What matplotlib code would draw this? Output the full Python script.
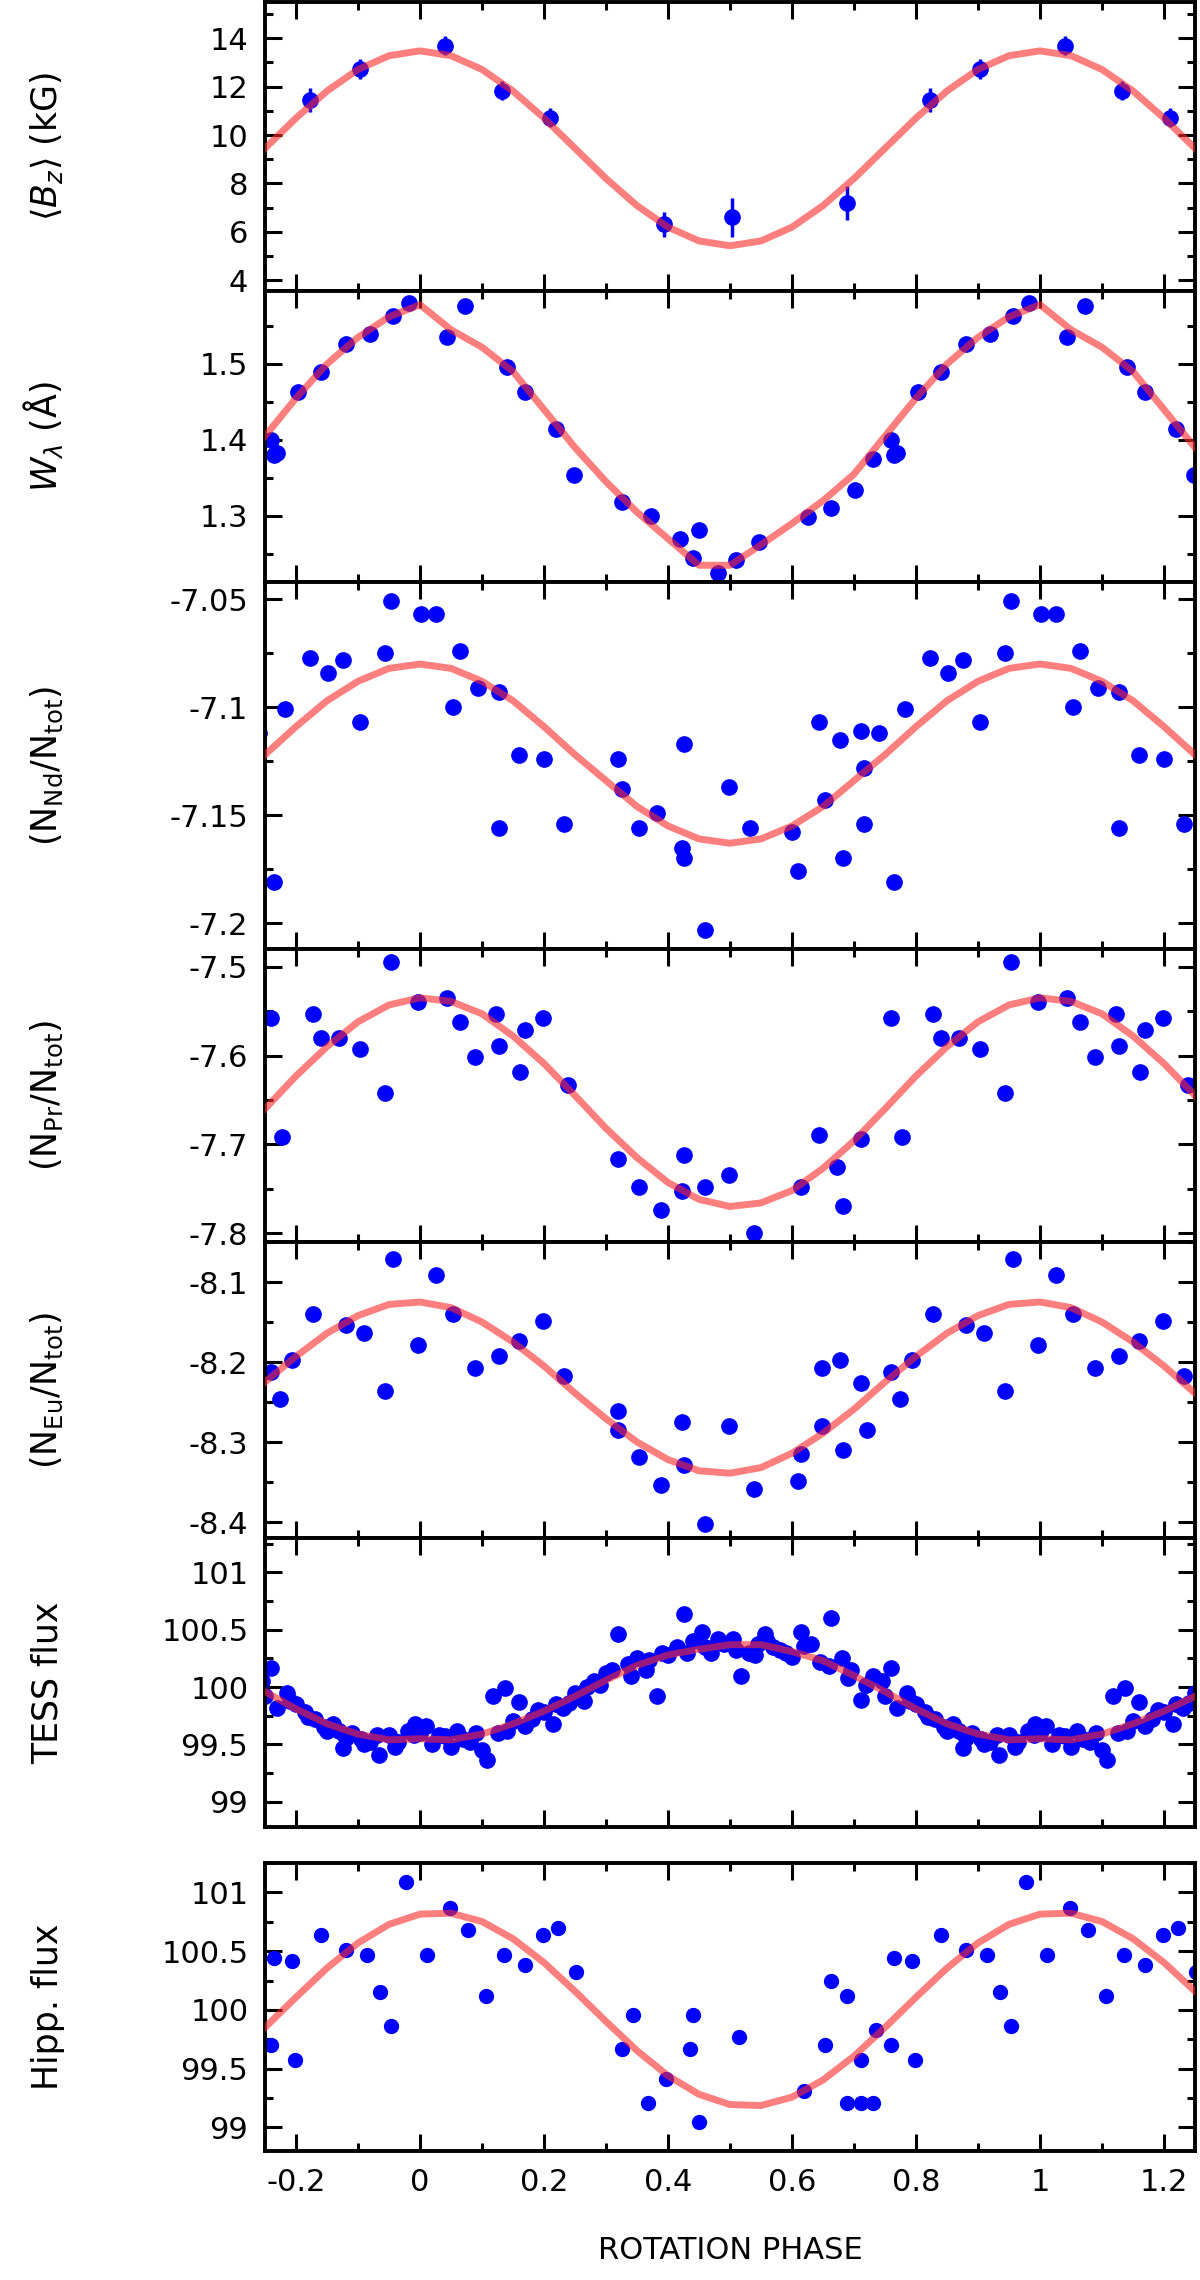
import numpy as np
import matplotlib.pyplot as plt
from matplotlib.ticker import MultipleLocator

# rotation phase of the observations (one cycle, repeated when plotted)
# --- panel 1: mean longitudinal field ---
ph_bz = np.array([0.040, 0.132, 0.209, 0.393, 0.504, 0.688, 0.822, 0.904])
bz = np.array([13.7, 11.83, 10.72, 6.3, 6.6, 7.2, 11.46, 12.73])
bz_err = np.array([0.4, 0.4, 0.4, 0.5, 0.8, 0.7, 0.5, 0.4])

# --- panel 2 ---
ph_w = np.array([0.044, 0.073, 0.141, 0.170, 0.219, 0.248, 0.325, 0.373, 0.420,
                 0.440, 0.450, 0.480, 0.510, 0.547, 0.625, 0.663, 0.702, 0.731,
                 0.760, 0.765, 0.770, 0.803, 0.841, 0.880, 0.919, 0.957, 0.982])
w = np.array([1.536, 1.576, 1.496, 1.463, 1.415, 1.354, 1.318, 1.300, 1.270,
              1.245, 1.281, 1.225, 1.242, 1.266, 1.298, 1.310, 1.334, 1.375,
              1.400, 1.380, 1.383, 1.463, 1.490, 1.526, 1.540, 1.563, 1.580])

# --- panel 3 ---
ph_a1 = np.array([0.001, 0.025, 0.054, 0.064, 0.093, 0.127, 0.127, 0.160, 0.200,
                  0.233, 0.320, 0.325, 0.354, 0.383, 0.422, 0.426, 0.426, 0.460,
                  0.499, 0.533, 0.600, 0.610, 0.644, 0.654, 0.678, 0.683, 0.712,
                  0.716, 0.716, 0.740, 0.764, 0.783, 0.822, 0.851, 0.875, 0.904,
                  0.943, 0.953])
a1 = np.array([-7.057, -7.057, -7.100, -7.074, -7.091, -7.093, -7.156, -7.122, -7.124,
               -7.154, -7.124, -7.138, -7.156, -7.149, -7.165, -7.170, -7.117, -7.203,
               -7.137, -7.156, -7.158, -7.176, -7.107, -7.143, -7.115, -7.170, -7.111,
               -7.154, -7.128, -7.112, -7.181, -7.101, -7.077, -7.084, -7.078, -7.107,
               -7.075, -7.051])

# --- panel 4 ---
ph_a2 = np.array([0.044, 0.064, 0.088, 0.122, 0.127, 0.161, 0.170, 0.199, 0.238,
                  0.320, 0.354, 0.388, 0.422, 0.426, 0.460, 0.499, 0.538, 0.615,
                  0.644, 0.673, 0.683, 0.712, 0.759, 0.778, 0.827, 0.841, 0.870,
                  0.904, 0.943, 0.953, 0.996])
a2 = np.array([-7.535, -7.562, -7.602, -7.553, -7.589, -7.619, -7.571, -7.558, -7.633,
               -7.717, -7.748, -7.774, -7.752, -7.712, -7.748, -7.734, -7.800, -7.748,
               -7.690, -7.726, -7.770, -7.694, -7.558, -7.692, -7.553, -7.580, -7.580,
               -7.593, -7.642, -7.495, -7.540])

# --- panel 5 ---
ph_a3 = np.array([0.025, 0.054, 0.088, 0.127, 0.160, 0.199, 0.233, 0.320, 0.320,
                  0.354, 0.388, 0.422, 0.426, 0.460, 0.499, 0.538, 0.610, 0.615,
                  0.649, 0.649, 0.678, 0.683, 0.712, 0.721, 0.759, 0.774, 0.793,
                  0.827, 0.880, 0.909, 0.943, 0.957, 0.996])
a3 = np.array([-8.091, -8.140, -8.208, -8.193, -8.174, -8.149, -8.218, -8.261, -8.285,
               -8.319, -8.354, -8.275, -8.329, -8.403, -8.280, -8.359, -8.349, -8.315,
               -8.208, -8.280, -8.198, -8.310, -8.226, -8.285, -8.213, -8.246, -8.198,
               -8.140, -8.154, -8.164, -8.236, -8.071, -8.179])

# --- panel 6: TESS photometry ---
ph_tess = np.array([0.000, 0.010, 0.020, 0.030, 0.040, 0.050, 0.060, 0.070, 0.080,
                    0.090, 0.100, 0.108, 0.117, 0.125, 0.137, 0.140, 0.150, 0.160,
                    0.170, 0.180, 0.190, 0.200, 0.215, 0.220, 0.230, 0.240, 0.250,
                    0.265, 0.270, 0.280, 0.290, 0.300, 0.310, 0.320, 0.335, 0.340,
                    0.350, 0.365, 0.370, 0.383, 0.390, 0.400, 0.415, 0.426, 0.430,
                    0.440, 0.455, 0.460, 0.470, 0.480, 0.490, 0.505, 0.510, 0.518,
                    0.530, 0.540, 0.545, 0.557, 0.560, 0.570, 0.580, 0.590, 0.600,
                    0.615, 0.620, 0.630, 0.645, 0.660, 0.663, 0.680, 0.690, 0.695,
                    0.712, 0.720, 0.730, 0.745, 0.750, 0.760, 0.770, 0.785, 0.790,
                    0.800, 0.815, 0.820, 0.830, 0.845, 0.850, 0.860, 0.870, 0.876,
                    0.880, 0.890, 0.905, 0.910, 0.920, 0.930, 0.934, 0.950, 0.960,
                    0.965, 0.980, 0.990, 0.992])
tess = np.array([99.60, 99.66, 99.50, 99.58, 99.57, 99.48, 99.62, 99.55, 99.52,
                 99.60, 99.45, 99.36, 99.92, 99.60, 99.99, 99.62, 99.70, 99.87,
                 99.66, 99.72, 99.80, 99.78, 99.68, 99.85, 99.82, 99.86, 99.95,
                 99.88, 100.00, 100.05, 100.02, 100.12, 100.15, 100.46, 100.20, 100.10,
                 100.25, 100.15, 100.24, 99.92, 100.30, 100.28, 100.35, 100.64, 100.30,
                 100.40, 100.48, 100.35, 100.30, 100.42, 100.38, 100.42, 100.32, 100.10,
                 100.30, 100.28, 100.38, 100.46, 100.40, 100.35, 100.32, 100.30, 100.26,
                 100.48, 100.36, 100.38, 100.22, 100.18, 100.60, 100.25, 100.08, 100.15,
                 99.89, 100.02, 100.10, 100.05, 99.92, 100.17, 99.82, 99.95, 99.88,
                 99.85, 99.78, 99.74, 99.72, 99.65, 99.62, 99.68, 99.62, 99.47,
                 99.56, 99.60, 99.55, 99.50, 99.52, 99.58, 99.41, 99.58, 99.48,
                 99.52, 99.62, 99.58, 99.68])

# --- panel 7: Hipparcos photometry ---
ph_hip = np.array([0.011, 0.049, 0.078, 0.107, 0.136, 0.170, 0.199, 0.223, 0.252,
                   0.325, 0.344, 0.368, 0.397, 0.436, 0.441, 0.450, 0.514, 0.620,
                   0.654, 0.663, 0.688, 0.688, 0.712, 0.731, 0.712, 0.736, 0.759,
                   0.764, 0.793, 0.798, 0.841, 0.880, 0.914, 0.935, 0.953, 0.977])
hip = np.array([100.47, 100.87, 100.68, 100.12, 100.47, 100.38, 100.64, 100.70, 100.32,
                99.67, 99.96, 99.21, 99.41, 99.67, 99.96, 99.05, 99.77, 99.31,
                99.70, 100.25, 100.12, 99.21, 99.21, 99.21, 99.57, 99.83, 99.70,
                100.44, 100.42, 99.57, 100.64, 100.51, 100.47, 100.15, 99.86, 101.09])

ph_fit = np.arange(0, 1, 0.05)
fit_bz = [13.48, 13.28, 12.71, 11.82, 10.70, 9.45, 8.20, 7.08, 6.19, 5.62,
          5.42, 5.62, 6.19, 7.08, 8.20, 9.45, 10.70, 11.82, 12.71, 13.28]
fit_w = [1.578, 1.545, 1.522, 1.490, 1.440, 1.390, 1.345, 1.305, 1.270, 1.235,
         1.235, 1.262, 1.290, 1.320, 1.355, 1.405, 1.455, 1.500, 1.535, 1.562]
fit_a1 = [-7.080, -7.082, -7.088, -7.097, -7.109, -7.122, -7.134, -7.146, -7.155, -7.161,
          -7.163, -7.161, -7.155, -7.146, -7.134, -7.122, -7.109, -7.097, -7.088, -7.082]
fit_a2 = [-7.535, -7.539, -7.553, -7.578, -7.609, -7.645, -7.682, -7.715, -7.743, -7.762,
          -7.770, -7.766, -7.752, -7.727, -7.696, -7.660, -7.623, -7.590, -7.562, -7.543]
fit_a3 = [-8.125, -8.132, -8.150, -8.175, -8.205, -8.239, -8.271, -8.300, -8.322, -8.336,
          -8.339, -8.332, -8.314, -8.289, -8.259, -8.225, -8.193, -8.164, -8.142, -8.128]
fit_tess = [99.55, 99.54, 99.59, 99.68, 99.79, 99.92, 100.06, 100.19, 100.28, 100.33,
            100.37, 100.37, 100.31, 100.23, 100.10, 99.96, 99.81, 99.68, 99.59, 99.54]
fit_hip = [100.815, 100.823, 100.752, 100.606, 100.403, 100.159, 99.902, 99.654, 99.440, 99.282,
           99.195, 99.187, 99.258, 99.404, 99.607, 99.851, 100.108, 100.356, 100.570, 100.728]

ylabels = [r'$\langle B_z\rangle$ (kG)', r'$W_\lambda$ (Å)',
           r'(N$_{\rm Nd}$/N$_{\rm tot}$)', r'(N$_{\rm Pr}$/N$_{\rm tot}$)',
           r'(N$_{\rm Eu}$/N$_{\rm tot}$)', 'TESS flux', 'Hipp. flux']
ylims = [(3.55, 15.5), (1.213, 1.596), (-7.212, -7.042), (-7.81, -7.48),
         (-8.42, -8.05), (98.78, 101.3), (98.8, 101.25)]
yticks = [[4, 6, 8, 10, 12, 14], [1.3, 1.4, 1.5], [-7.2, -7.15, -7.1, -7.05],
          [-7.8, -7.7, -7.6, -7.5], [-8.4, -8.3, -8.2, -8.1],
          [99, 99.5, 100, 100.5, 101], [99, 99.5, 100, 100.5, 101]]
yticklabels = [['4', '6', '8', '10', '12', '14'], ['1.3', '1.4', '1.5'],
               ['-7.2', '-7.15', '-7.1', '-7.05'], ['-7.8', '-7.7', '-7.6', '-7.5'],
               ['-8.4', '-8.3', '-8.2', '-8.1'],
               ['99', '99.5', '100', '100.5', '101'], ['99', '99.5', '100', '100.5', '101']]
yminor = [1, 0.05, 0.025, 0.05, 0.05, 0.25, 0.25]

# panel edges in pixels from the top (figure is 1200 x 2280)
edges = [(2, 291), (291, 582), (582, 949), (949, 1242), (1242, 1538),
         (1538, 1827), (1863, 2151)]


def wrap(ph, val):
    # repeat one cycle so it covers phase -0.25 .. 1.25
    ph = np.asarray(ph)
    return np.concatenate([ph - 1, ph, ph + 1]), np.tile(np.asarray(val), 3)


data = [(ph_bz, bz), (ph_w, w), (ph_a1, a1), (ph_a2, a2), (ph_a3, a3),
        (ph_tess, tess), (ph_hip, hip)]
fits = [fit_bz, fit_w, fit_a1, fit_a2, fit_a3, fit_tess, fit_hip]

plt.rcParams['font.family'] = 'DejaVu Sans'
fig = plt.figure(figsize=(12, 22.8), dpi=100)

for i in range(7):
    top, bot = edges[i]
    ax = fig.add_axes([265 / 1200, 1 - bot / 2280, 930 / 1200, (bot - top) / 2280])

    x, y = wrap(*data[i])
    if i == 0:
        _, e = wrap(ph_bz, bz_err)
        ax.errorbar(x, y, yerr=e, fmt='o', color='blue', ms=11, elinewidth=2.5,
                    capsize=0, zorder=2)
    else:
        ms = 10 if i == 6 else 11
        ax.plot(x, y, 'o', color='blue', ms=ms, mec='blue', zorder=2)

    fx, fy = wrap(ph_fit, fits[i])
    ax.plot(fx, fy, '-', color='#ff2a2a', lw=5, alpha=0.6, zorder=3,
            solid_joinstyle='round')

    ax.set_xlim(-0.25, 1.25)
    ax.set_ylim(ylims[i])
    ax.set_yticks(yticks[i])
    ax.set_yticklabels(yticklabels[i])
    ax.yaxis.set_minor_locator(MultipleLocator(yminor[i]))
    ax.xaxis.set_major_locator(MultipleLocator(0.2))
    ax.xaxis.set_minor_locator(MultipleLocator(0.1))
    ax.tick_params(which='both', direction='in', top=True, right=True,
                   labelsize=22, width=2.2)
    ax.tick_params(which='major', length=12)
    ax.tick_params(which='minor', length=6)
    ax.tick_params(axis='y', pad=12)
    for s in ax.spines.values():
        s.set_linewidth(2.8)

    ax.set_ylabel(ylabels[i], fontsize=25)
    ax.yaxis.set_label_coords(-0.215, 0.5)

    if i < 6:
        ax.tick_params(labelbottom=False)
    else:
        ax.set_xticks([-0.2, 0, 0.2, 0.4, 0.6, 0.8, 1, 1.2])
        ax.set_xticklabels(['-0.2', '0', '0.2', '0.4', '0.6', '0.8', '1', '1.2'])
        ax.tick_params(axis='x', pad=12)
        ax.set_xlabel('ROTATION PHASE', fontsize=22, labelpad=28)

fig.savefig('out.png', dpi=100)
